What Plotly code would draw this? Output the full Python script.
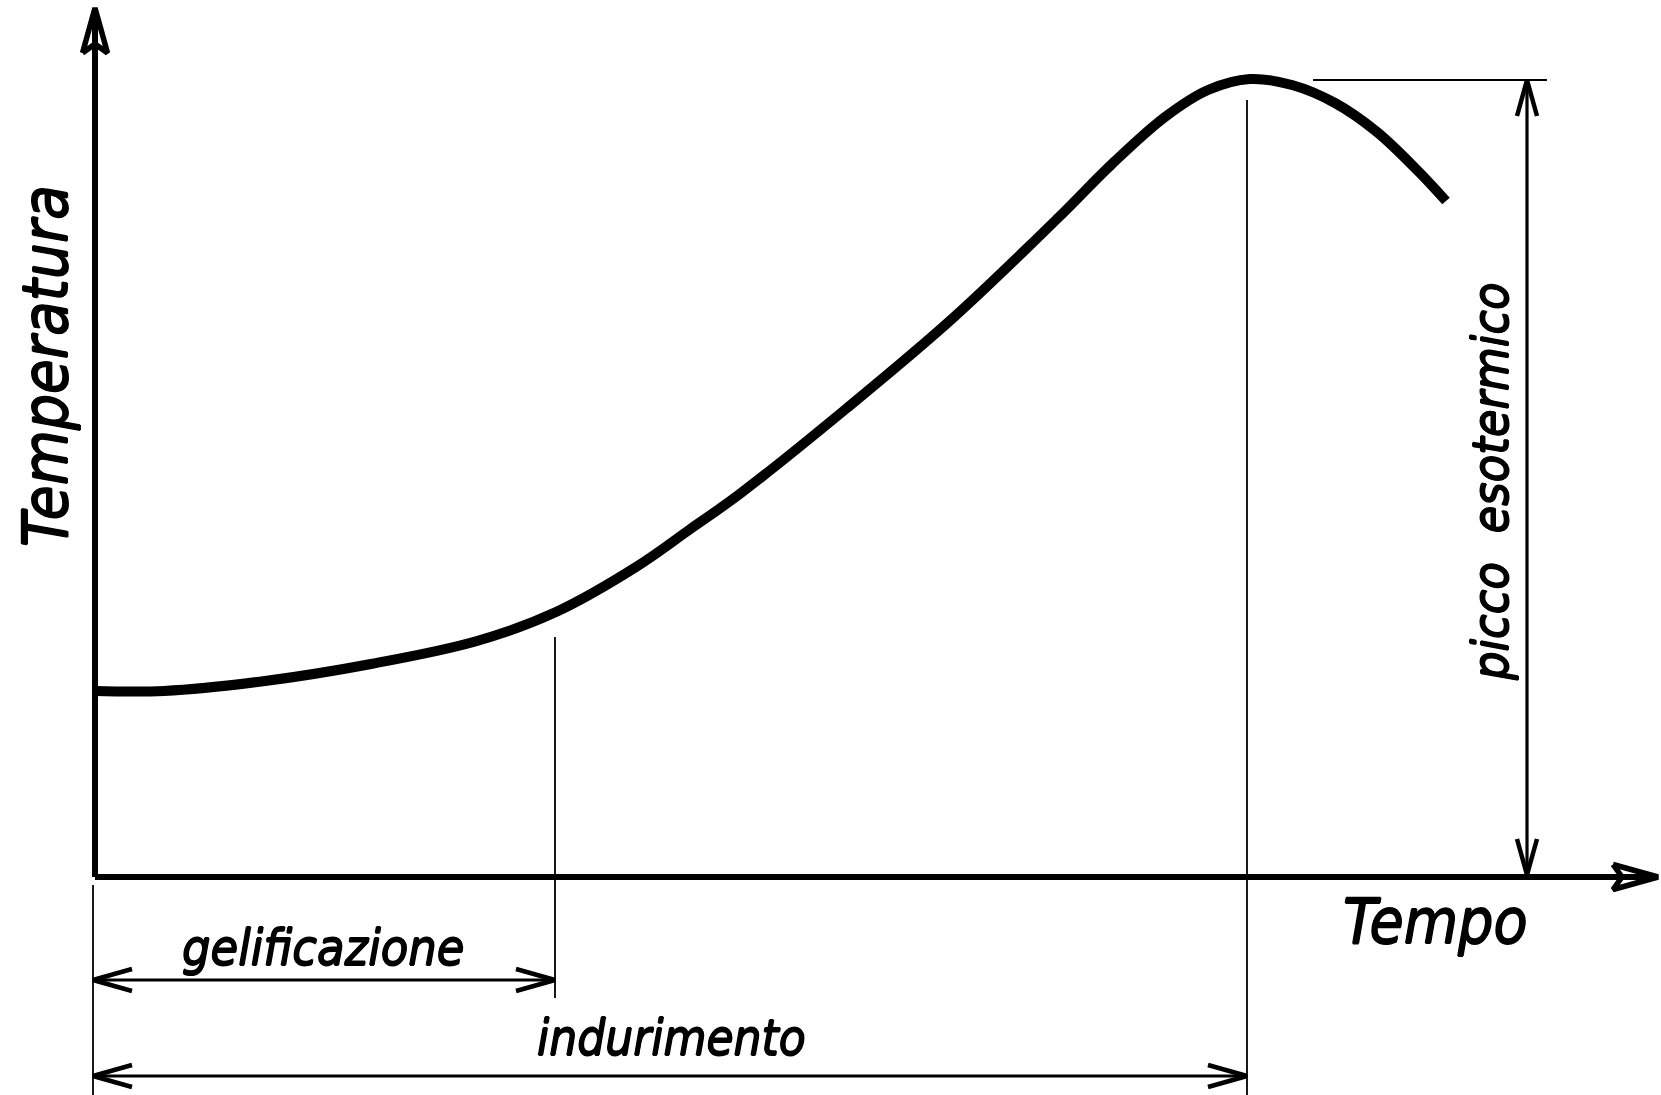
import plotly.graph_objects as go

# ---- data (time, temperature in arbitrary drawing units) ----
time = [0, 69, 170, 276, 382, 461, 541, 594, 646, 752, 858, 964, 1017, 1070, 1113, 1155, 1197, 1240, 1282, 1324, 1351]
temp = [186, 186, 196, 213, 236, 265, 310, 347, 384, 469, 559, 660, 713, 760, 787, 798, 792, 774, 745, 705, 676]

t_gel = 460        # end of gelificazione
t_peak = 1152      # time of exothermic peak
T_peak = 797       # exothermic peak temperature

x_label = "Tempo"
y_label = "Temperatura"
gel_label = "gelificazione"
hard_label = "indurimento"
peak_label = "picco\u00a0\u00a0esotermico"

# ---- layout constants ----
W, H = 1661, 1095
X0, Y0 = 95, 877          # pixel position of origin
XR = [-X0, W - X0]
YR = [Y0 - H, Y0]
FONT = "DejaVu Sans Condensed, Liberation Sans Narrow, Liberation Sans, sans-serif"
SHADOW = "0.7px 0 0 black, -0.7px 0 0 black, 0 0.7px 0 black, 0 -0.7px 0 black"

fig = go.Figure()

def line(xs, ys, w, shape="linear"):
    fig.add_trace(go.Scatter(x=xs, y=ys, mode="lines", line=dict(color="black", width=w, shape=shape),
                             hoverinfo="skip", showlegend=False))

def open_head(tx, ty, dx, dy, length=39, half=11, w=4.5):
    px, py = -dy, dx
    bx, by = tx - dx * length, ty - dy * length
    line([bx + px * half, tx, bx - px * half], [by + py * half, ty, by - py * half], w)

def axis_head(tx, ty, dx, dy, length=45, half=12.5, notch=9, w=5.5):
    px, py = -dy, dx
    bx, by = tx - dx * length, ty - dy * length
    nx, ny = tx - dx * (length - notch), ty - dy * (length - notch)
    line([bx + px * half, tx, bx - px * half, nx, bx + px * half],
         [by + py * half, ty, by - py * half, ny, by + py * half], w)

# axes
x_tip = XR[1] - 3
y_tip = YR[1] - 8
line([0, 0], [0, y_tip - 10], 6)
line([0, x_tip - 10], [0, 0], 6)
axis_head(0, y_tip, 0, 1)
axis_head(x_tip, 0, 1, 0)

# curve
line(time, temp, 10, "spline")

# extension lines
ext_bottom = YR[0]
line([-2, -2], [-8, ext_bottom], 1.8)
line([t_gel, t_gel], [240, -121], 1.8)
line([t_peak, t_peak], [777, ext_bottom], 1.8)
t_dim = t_peak + 280
line([t_peak + 66, t_dim + 20], [T_peak, T_peak], 1.8)

# dimension arrows
y_gel = -103
y_hard = -199
line([-2, t_gel], [y_gel, y_gel], 3.2)
open_head(-2, y_gel, -1, 0)
open_head(t_gel, y_gel, 1, 0)
line([-2, t_peak], [y_hard, y_hard], 3.2)
open_head(-2, y_hard, -1, 0)
open_head(t_peak, y_hard, 1, 0)
line([t_dim, t_dim], [2, T_peak], 3.2)
open_head(t_dim, T_peak, 0, 1, length=36, half=10)
open_head(t_dim, 2, 0, -1, length=36, half=10)

def label(text, x, y, size, angle=0):
    fig.add_annotation(text=text, x=x, y=y, xref="x", yref="y", showarrow=False,
                       xanchor="center", yanchor="middle", textangle=angle,
                       font=dict(family=FONT, size=size, color="black", style="italic", shadow=SHADOW))

label(gel_label, 228, -71, 50)
label(hard_label, 576, -161, 49)
label(x_label, 1340, -44, 62)
label(y_label, -50, 511, 63, -90)
label(peak_label, 1396, 395, 50, -90)

fig.update_layout(width=W, height=H, autosize=False, margin=dict(l=0, r=0, t=0, b=0, pad=0),
                  paper_bgcolor="white", plot_bgcolor="white")
fig.update_xaxes(range=XR, visible=False, fixedrange=True)
fig.update_yaxes(range=YR, visible=False, fixedrange=True)

fig.write_html("out.html", config={"displayModeBar": False},
               post_script="document.body.style.margin='0';document.body.style.overflow='hidden';")
